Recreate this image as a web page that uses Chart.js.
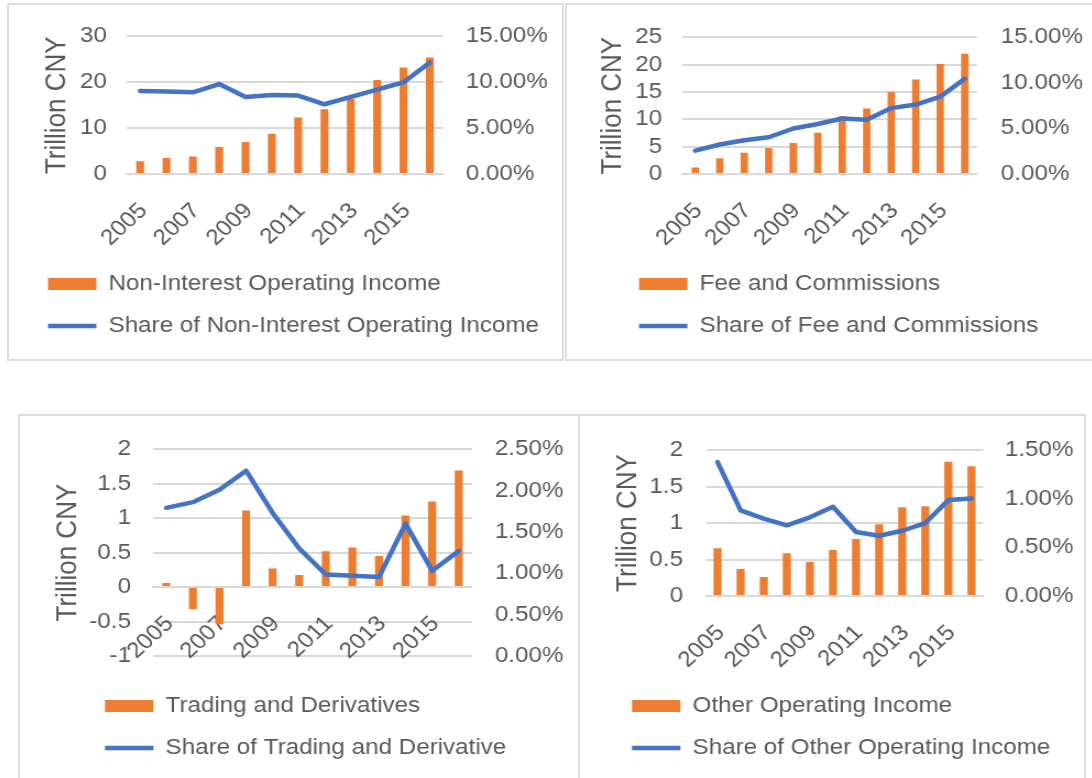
<!DOCTYPE html>
<html>
<head>
<meta charset="utf-8">
<script src="https://cdn.jsdelivr.net/npm/chart.js@4.4.1/dist/chart.umd.min.js"></script>
<style>
  body { margin: 0; background: #fff; width: 1092px; height: 778px; overflow: hidden; position: relative; }
  .panel { position: absolute; background: #fff; border: 2px solid #dedede; box-sizing: border-box; overflow: hidden; }
  .panel canvas { position: absolute; left: 0; top: 0; transform-origin: 0 0; }
  #p4 { z-index: 2; }
</style>
</head>
<body>
<div class="panel" id="p1"><canvas></canvas></div>
<div class="panel" id="p2"><canvas></canvas></div>
<div class="panel" id="p3"><canvas></canvas></div>
<div class="panel" id="p4"><canvas></canvas></div>
<script>
const years = ['2005', '2006', '2007', '2008', '2009', '2010', '2011', '2012', '2013', '2014', '2015', '2016'];

// trillion CNY (bars) and share in % (lines)
const nonInterestIncome = [2.8, 3.5, 3.8, 5.9, 7.0, 8.7, 12.3, 14.1, 16.4, 20.5, 23.2, 25.4];
const nonInterestShare = [9.05, 9.0, 8.9, 9.8, 8.4, 8.6, 8.55, 7.6, 8.4, 9.2, 10.0, 12.15];

const feeIncome = [1.2, 2.9, 3.9, 4.75, 5.65, 7.55, 10.6, 12.0, 15.0, 17.3, 20.1, 22.0];
const feeShare = [2.56, 3.24, 3.7, 4.03, 4.99, 5.49, 6.09, 5.95, 7.23, 7.62, 8.48, 10.44];

const tradingIncome = [0.06, -0.32, -0.54, 1.11, 0.27, 0.175, 0.52, 0.575, 0.45, 1.04, 1.24, 1.69];
const tradingShare = [1.79, 1.86, 2.01, 2.24, 1.73, 1.30, 0.985, 0.97, 0.955, 1.60, 1.03, 1.27];

const otherIncome = [0.655, 0.37, 0.26, 0.585, 0.465, 0.63, 0.78, 0.985, 1.215, 1.23, 1.84, 1.78];
const otherShare = [1.376, 0.881, 0.796, 0.727, 0.809, 0.917, 0.658, 0.619, 0.671, 0.75, 0.986, 1.002];

const K = 1.1;   // the picture is a bit wider than tall, stretch the canvases
const FS = 22;
const LP = 20;
const TEXT = '#595959';
const GRID = '#d9d9d9';
const ORANGE = '#ED7D31';
const BLUE = '#4472C4';

Chart.defaults.font.family = "'Liberation Sans', Arial, sans-serif";
Chart.defaults.color = TEXT;

function panel(id, box, g, d) {
  const el = document.getElementById(id);
  Object.assign(el.style, { left: box.x + 'px', top: box.y + 'px', width: box.w + 'px', height: box.h + 'px' });
  const ox = box.x + 2, oy = box.y + 2;
  const W = Math.floor((box.w - 4) / K), H = box.h - 4;
  const cv = el.querySelector('canvas');
  cv.width = W;
  cv.height = H;
  cv.style.transform = `scaleX(${K})`;

  const ix = a => (a - ox) / K;
  const iy = a => a - oy;
  const padL = ix(g.legendX) - LP;
  const padR = 4;
  const chartB = iy(g.bottom);
  const legendTop = iy(g.row1) - LP - FS / 2;
  const gap = d.centerAxis ? legendTop - chartB : 0;
  const padB = H - legendTop - (2 * (FS + LP) + 10);

  const xAxis = {
    type: 'category',
    offset: true,
    grid: { display: false },
    border: { display: true, color: GRID, width: 2 },
    ticks: {
      autoSkip: false, minRotation: 45, maxRotation: 45,
      padding: 16, labelOffset: 3,
      font: { size: FS }, color: TEXT,
      callback: function (v, i) { return i % 2 === 0 ? this.getLabelForValue(v) : ''; }
    }
  };
  if (d.centerAxis) xAxis.position = { y: 0 };
  else xAxis.afterFit = s => { s.height = legendTop - chartB; };

  new Chart(cv, {
    data: {
      labels: years,
      datasets: [
        {
          type: 'bar', label: d.barLabel, data: d.bars, yAxisID: 'y', order: 1,
          backgroundColor: ORANGE, borderColor: ORANGE, borderWidth: 0,
          barPercentage: d.barPct, categoryPercentage: 1, pointStyle: 'rect'
        },
        {
          type: 'line', label: d.lineLabel, data: d.line, yAxisID: 'y1', order: 0,
          borderColor: BLUE, backgroundColor: BLUE, borderWidth: 4.5, pointRadius: 0,
          tension: 0, borderCapStyle: 'round', borderJoinStyle: 'round', pointStyle: 'line'
        }
      ]
    },
    options: {
      responsive: false,
      animation: false,
      devicePixelRatio: 1,
      layout: { padding: { left: padL, right: padR, top: iy(g.top), bottom: padB } },
      scales: {
        x: xAxis,
        y: {
          position: 'left', min: d.yMin, max: d.yMax,
          ticks: { autoSkip: false, stepSize: d.yStep, padding: (g.left - g.leftLabelR) / K, font: { size: FS }, color: TEXT, callback: v => v },
          grid: { color: GRID, lineWidth: 2, drawTicks: false },
          border: { display: false },
          title: {
            display: true, text: 'Trillion CNY', color: TEXT, font: { size: 26 },
            padding: { top: ix(g.titleX) - padL - 15.6, bottom: 0 }
          },
          afterFit: s => { s.width = ix(g.left) - padL; }
        },
        y1: {
          position: 'right', min: 0, max: d.rMax,
          ticks: { autoSkip: false, stepSize: d.rStep, padding: (g.rightLabelL - g.right) / K, font: { size: FS }, color: TEXT, callback: v => v.toFixed(2) + '%' },
          grid: { display: false },
          border: { display: false },
          afterFit: s => { s.width = W - padR - ix(g.right); }
        }
      },
      plugins: {
        tooltip: { enabled: false },
        legend: {
          position: 'bottom',
          align: 'start',
          title: { display: d.centerAxis, text: '', font: { size: gap, lineHeight: 1 }, padding: 0 },
          labels: {
            usePointStyle: true, pointStyleWidth: 44, boxHeight: 12,
            padding: LP, color: TEXT, font: { size: FS },
            sort: (a, b) => a.datasetIndex - b.datasetIndex
          }
        }
      }
    }
  });
}

panel('p1', { x: 7, y: 3, w: 557, h: 358 },
  { left: 127, right: 443, top: 33, bottom: 174, leftLabelR: 107, rightLabelL: 457, titleX: 57, legendX: 48, row1: 284 },
  { bars: nonInterestIncome, line: nonInterestShare, barLabel: 'Non-Interest Operating Income',
    lineLabel: 'Share of Non-Interest Operating Income', yMin: 0, yMax: 30, yStep: 10, rMax: 15, rStep: 5, barPct: 0.3 });

panel('p2', { x: 565, y: 3, w: 540, h: 358 },
  { left: 683, right: 977, top: 33, bottom: 174, leftLabelR: 662, rightLabelL: 992, titleX: 613, legendX: 639, row1: 284 },
  { bars: feeIncome, line: feeShare, barLabel: 'Fee and Commissions',
    lineLabel: 'Share of Fee and Commissions', yMin: 0, yMax: 25, yStep: 5, rMax: 15, rStep: 5, barPct: 0.3 });

panel('p3', { x: 18, y: 414, w: 580, h: 380 },
  { left: 153, right: 472, top: 443, bottom: 656, leftLabelR: 131, rightLabelL: 486, titleX: 68, legendX: 105, row1: 706 },
  { bars: tradingIncome, line: tradingShare, barLabel: 'Trading and Derivatives',
    lineLabel: 'Share of Trading and Derivative', yMin: -1, yMax: 2, yStep: 0.5, rMax: 2.5, rStep: 0.5, barPct: 0.3, centerAxis: true });

panel('p4', { x: 578, y: 414, w: 508, h: 380 },
  { left: 706, right: 983, top: 443, bottom: 596, leftLabelR: 683, rightLabelL: 996, titleX: 628, legendX: 632, row1: 706 },
  { bars: otherIncome, line: otherShare, barLabel: 'Other Operating Income',
    lineLabel: 'Share of Other Operating Income', yMin: 0, yMax: 2, yStep: 0.5, rMax: 1.5, rStep: 0.5, barPct: 0.35 });
</script>
</body>
</html>
